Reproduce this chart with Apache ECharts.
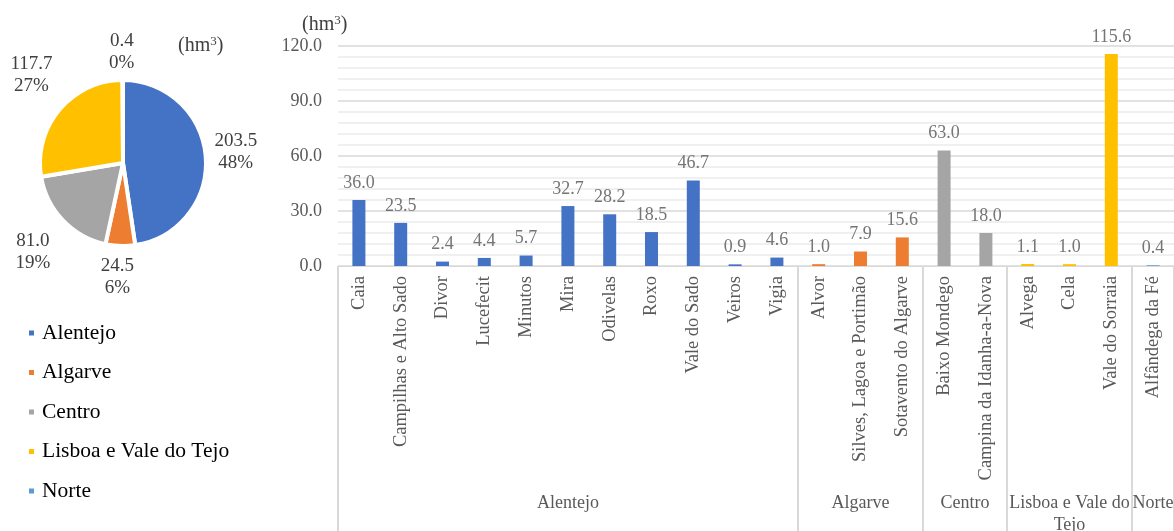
<!DOCTYPE html>
<html>
<head>
<meta charset="utf-8">
<script src="https://cdn.jsdelivr.net/npm/echarts@6/dist/echarts.min.js"></script>
<style>
  html, body { margin: 0; padding: 0; background: #fff; }
  #chart { width: 1174px; height: 531px; }
</style>
</head>
<body>
<div id="chart"></div>
<script>
// Regions (pie slices and bar groups)
const regions = ['Alentejo', 'Algarve', 'Centro', 'Lisboa e Vale do Tejo', 'Norte'];
const regionTotals = [203.5, 24.5, 81.0, 117.7, 0.4];
const regionColors = ['#4472C4', '#ED7D31', '#A5A5A5', '#FFC000', '#5B9BD5'];

// Irrigation schemes, their region and volume (hm³)
const schemes = [
  'Caia', 'Campilhas e Alto Sado', 'Divor', 'Lucefecit', 'Minutos', 'Mira', 'Odivelas',
  'Roxo', 'Vale do Sado', 'Veiros', 'Vigia',
  'Alvor', 'Silves, Lagoa e Portimão', 'Sotavento do Algarve',
  'Baixo Mondego', 'Campina da Idanha-a-Nova',
  'Alvega', 'Cela', 'Vale do Sorraia',
  'Alfândega da Fé'
];
const schemeRegion = [
  0, 0, 0, 0, 0, 0, 0, 0, 0, 0, 0,
  1, 1, 1,
  2, 2,
  3, 3, 3,
  4
];
const schemeVolumes = [
  36.0, 23.5, 2.4, 4.4, 5.7, 32.7, 28.2, 18.5, 46.7, 0.9, 4.6,
  1.0, 7.9, 15.6,
  63.0, 18.0,
  1.1, 1.0, 115.6,
  0.4
];
const groupLabels = ['Alentejo', 'Algarve', 'Centro', 'Lisboa e Vale do\nTejo', 'Norte'];

// Value-axis ticks
const yTicks = [0, 30, 60, 90, 120];

const FONT = "'Liberation Serif', 'Times New Roman', serif";

// Second bottom axis on a half-category scale: separators at group edges,
// group names at group centres.
const halfSlots = [];
for (let i = 0; i <= schemes.length * 2; i++) halfSlots.push('');
const groupEdges = [0];
const groupCentres = [];
{
  let start = 0;
  for (let g = 0; g < regions.length; g++) {
    const count = schemeRegion.filter(r => r === g).length;
    const end = start + count;
    groupEdges.push(end * 2);
    groupCentres.push(start + end);
    halfSlots[start + end] = groupLabels[g];
    start = end;
  }
}

// Small nudges that move each pie label clear of the rim
const pieLabelNudge = [[2, -5], [25, 31], [-2, 32], [0, -35], [27, -28]];

const unitTitle = (left, top) => ({
  text: '(hm{sup|3})',
  left, top,
  textStyle: {
    fontFamily: FONT, fontSize: 20, fontWeight: 'normal', color: '#404040',
    rich: { sup: { fontFamily: FONT, fontSize: 13, color: '#404040', verticalAlign: 'top', padding: [0, 0, 8, 0] } }
  }
});

const chart = echarts.init(document.getElementById('chart'));
chart.setOption({
  animation: false,
  textStyle: { fontFamily: FONT },
  title: [unitTitle(173, 30), unitTitle(297, 9)],
  legend: {
    orient: 'vertical',
    left: 22,
    top: 317,
    icon: 'rect',
    itemWidth: 7,
    itemHeight: 7,
    itemGap: 17.5,
    data: regions,
    textStyle: { fontFamily: FONT, fontSize: 21.5, lineHeight: 22, color: '#000', padding: [0, 0, 0, 2] }
  },
  grid: { left: 338, right: 0, top: 46, bottom: 265, containLabel: false, outerBoundsMode: 'none' },
  xAxis: [
    {
      type: 'category',
      data: schemes,
      axisLine: { lineStyle: { color: '#d9d9d9', width: 1 } },
      axisTick: { show: false },
      axisLabel: {
        rotate: 90,
        interval: 0,
        margin: 10,
        fontFamily: FONT,
        fontSize: 18.5,
        color: '#595959'
      }
    },
    {
      type: 'category',
      position: 'bottom',
      data: halfSlots,
      boundaryGap: false,
      axisLine: { show: false },
      axisTick: {
        show: true,
        length: 266,
        interval: (idx) => groupEdges.indexOf(idx) !== -1,
        lineStyle: { color: '#d9d9d9', width: 2 }
      },
      axisLabel: {
        interval: (idx) => groupCentres.indexOf(idx) !== -1,
        margin: 226,
        fontFamily: FONT,
        fontSize: 18,
        lineHeight: 22,
        color: '#595959'
      }
    }
  ],
  yAxis: {
    type: 'value',
    min: yTicks[0],
    max: yTicks[yTicks.length - 1],
    interval: yTicks[1] - yTicks[0],
    axisLine: { show: false },
    axisTick: { show: false },
    axisLabel: {
      margin: 16,
      fontFamily: FONT,
      fontSize: 18,
      color: '#595959',
      formatter: v => v.toFixed(1)
    },
    splitLine: { lineStyle: { color: '#d9d9d9', width: 1.5 } },
    minorTick: { show: false, splitNumber: 5 },
    minorSplitLine: { show: true, lineStyle: { color: '#ececec', width: 1.5 } }
  },
  series: [
    {
      type: 'pie',
      center: [123, 163],
      radius: 83,
      startAngle: 90,
      clockwise: true,
      avoidLabelOverlap: false,
      percentPrecision: 0,
      itemStyle: { borderColor: '#fff', borderWidth: 4 },
      color: regionColors,
      data: regions.map((name, i) => ({ name, value: regionTotals[i] })),
      label: {
        position: 'outside',
        overflow: 'none',
        fontFamily: FONT,
        fontSize: 19,
        lineHeight: 22,
        color: '#404040',
        formatter: p => '{t|' + p.value.toFixed(1) + '}\n{t|' + p.percent + '%}',
        rich: { t: { fontFamily: FONT, fontSize: 19, lineHeight: 22, color: '#404040', width: 46, align: 'center' } }
      },
      labelLine: { show: false, length: 0, length2: 0 },
      labelLayout: p => ({ dx: pieLabelNudge[p.dataIndex][0], dy: pieLabelNudge[p.dataIndex][1] })
    },
    {
      type: 'bar',
      xAxisIndex: 0,
      barWidth: 13,
      data: schemeVolumes.map((v, i) => ({
        value: v,
        itemStyle: { color: regionColors[schemeRegion[i]] }
      })),
      label: {
        show: true,
        position: 'top',
        distance: 8,
        fontFamily: FONT,
        fontSize: 18,
        color: '#757575',
        formatter: p => p.value.toFixed(1)
      }
    }
  ]
});
</script>
</body>
</html>
